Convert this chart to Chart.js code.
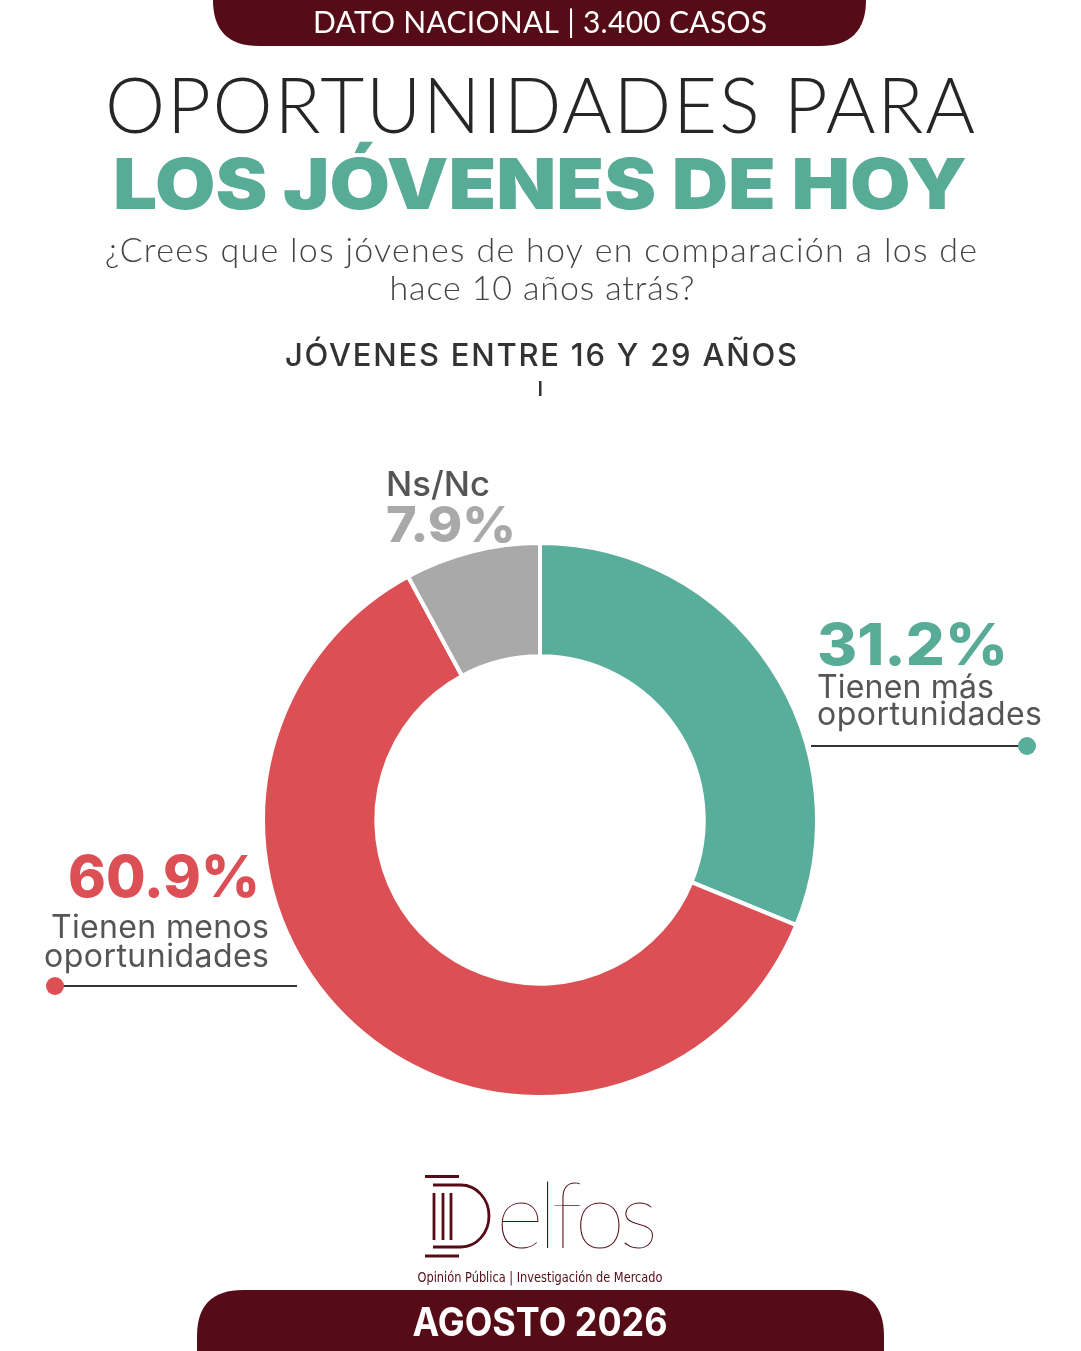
<!DOCTYPE html>
<html>
<head>
<meta charset="utf-8">
<title>Oportunidades para los jóvenes de hoy</title>
<script src="https://cdn.jsdelivr.net/npm/chart.js@4/dist/chart.umd.min.js"></script>
<style>
  html, body { margin: 0; padding: 0; background: #fff; }
  #chart { display: block; }
</style>
</head>
<body>
<canvas id="chart" width="1081" height="1351"></canvas>
<script>
// data
const categories = ['Tienen más oportunidades', 'Tienen menos oportunidades', 'Ns/Nc'];
const values = [31.2, 60.9, 7.9];
const sliceColors = ['#59ae9b', '#dc5055', '#a9a9a9'];

const MAROON = '#560c16';
const TEAL = '#57ab97';
const FONT = 'Lato, "Open Sans", sans-serif';
const HEAVY = 'Inter, "Open Sans", sans-serif';

const pct = v => v.toFixed(1) + '%';

// draw a text, optionally stretched/spaced to a target width
function txt(ctx, s, o) {
  ctx.save();
  ctx.font = (o.weight || 400) + ' ' + o.size + 'px ' + (o.family || FONT);
  ctx.fillStyle = o.color || '#333';
  ctx.textBaseline = 'alphabetic';
  ctx.textAlign = 'left';
  let w = ctx.measureText(s).width;
  let sx = 1;
  if (o.width) {
    const n = [...s].length;
    if (o.fit === 'space' && 'letterSpacing' in ctx && n > 1) {
      ctx.letterSpacing = ((o.width - w) / (n - 1)) + 'px';
    } else {
      sx = o.width / w;
    }
    w = o.width;
  }
  let left = o.x;
  if (o.align === 'center') left = o.x - w / 2;
  if (o.align === 'right') left = o.x - w;
  ctx.translate(left, o.y);
  ctx.scale(sx, 1);
  ctx.fillText(s, 0, 0);
  ctx.restore();
}

function roundBar(ctx, x, y, w, h, r, top) {
  ctx.beginPath();
  if (top) {
    ctx.moveTo(x, y + h);
    ctx.lineTo(x, y + r);
    ctx.quadraticCurveTo(x, y, x + r, y);
    ctx.lineTo(x + w - r, y);
    ctx.quadraticCurveTo(x + w, y, x + w, y + r);
    ctx.lineTo(x + w, y + h);
  } else {
    ctx.moveTo(x, y);
    ctx.lineTo(x, y + h - r);
    ctx.quadraticCurveTo(x, y + h, x + r, y + h);
    ctx.lineTo(x + w - r, y + h);
    ctx.quadraticCurveTo(x + w, y + h, x + w, y + h - r);
    ctx.lineTo(x + w, y);
  }
  ctx.closePath();
  ctx.fillStyle = MAROON;
  ctx.fill();
}

const poster = {
  id: 'poster',
  beforeDraw(chart) {
    const ctx = chart.ctx;
    ctx.save();
    ctx.fillStyle = '#fff';
    ctx.fillRect(0, 0, chart.width, chart.height);

    // top banner
    roundBar(ctx, 213, 0, 653, 46, 46, false);
    txt(ctx, 'DATO NACIONAL | 3.400 CASOS', { x: 540, y: 33, size: 30, weight: 400, color: '#fff', align: 'center', width: 454, fit: 'space' });

    // titles
    txt(ctx, 'OPORTUNIDADES PARA', { x: 540, y: 133, size: 76, weight: 300, color: '#262626', align: 'center', width: 870, fit: 'space' });
    txt(ctx, 'LOS JÓVENES DE HOY', { x: 540, y: 209, size: 70, weight: 900, color: TEAL, align: 'center', width: 854, family: HEAVY });
    txt(ctx, '¿Crees que los jóvenes de hoy en comparación a los de', { x: 541, y: 262, size: 34, weight: 300, color: '#444', align: 'center', width: 872, fit: 'space' });
    txt(ctx, 'hace 10 años atrás?', { x: 542, y: 300, size: 34, weight: 300, color: '#444', align: 'center', width: 305, fit: 'space' });
    txt(ctx, 'JÓVENES ENTRE 16 Y 29 AÑOS', { x: 541, y: 366, size: 31, weight: 500, color: '#333', align: 'center', width: 512, fit: 'space', family: HEAVY });
    ctx.fillStyle = '#333';
    ctx.fillRect(539, 381, 2.5, 15);

    // bottom banner
    roundBar(ctx, 197, 1290, 687, 61, 46, true);
    txt(ctx, 'AGOSTO 2026', { x: 540, y: 1336, size: 40, weight: 700, color: '#fff', align: 'center', width: 255, family: HEAVY });

    // logo
    ctx.strokeStyle = MAROON;
    ctx.lineWidth = 2.8;
    ctx.beginPath();
    ctx.moveTo(425, 1176.5); ctx.lineTo(459, 1176.5);
    ctx.moveTo(425, 1256); ctx.lineTo(459, 1256);
    [434, 443, 451].forEach(x => { ctx.moveTo(x, 1193); ctx.lineTo(x, 1240); });
    ctx.stroke();
    ctx.beginPath();
    ctx.moveTo(433, 1185);
    ctx.lineTo(461, 1185);
    ctx.ellipse(461, 1216, 28, 31, 0, -Math.PI / 2, Math.PI / 2, false);
    ctx.lineTo(433, 1247);
    ctx.stroke();
    txt(ctx, 'elfos', { x: 496, y: 1248, size: 92, weight: 200, color: MAROON, width: 162, fit: 'space' });
    txt(ctx, 'Opinión Pública | Investigación de Mercado', { x: 540, y: 1282, size: 14, weight: 400, color: MAROON, align: 'center', width: 245, family: '"Liberation Sans Narrow", "DejaVu Sans Condensed", sans-serif' });
    ctx.restore();
  },
  afterDraw(chart) {
    const ctx = chart.ctx;
    ctx.save();
    // Ns/Nc
    txt(ctx, categories[2], { x: 386, y: 496, size: 34, weight: 500, color: '#555', width: 104, family: HEAVY });
    txt(ctx, pct(values[2]), { x: 386, y: 542, size: 50, weight: 800, color: sliceColors[2], width: 130, family: HEAVY });

    // right label
    txt(ctx, pct(values[0]), { x: 817, y: 665, size: 58, weight: 800, color: TEAL, width: 191, family: HEAVY });
    txt(ctx, 'Tienen más', { x: 817, y: 698, size: 32, weight: 400, color: '#555', width: 177, fit: 'space', family: HEAVY });
    txt(ctx, 'oportunidades', { x: 817, y: 725, size: 32, weight: 400, color: '#555', width: 225, fit: 'space', family: HEAVY });
    ctx.strokeStyle = '#333'; ctx.lineWidth = 2;
    ctx.beginPath(); ctx.moveTo(811, 746); ctx.lineTo(1027, 746); ctx.stroke();
    ctx.fillStyle = sliceColors[0];
    ctx.beginPath(); ctx.arc(1027, 746, 9, 0, Math.PI * 2); ctx.fill();

    // left label
    txt(ctx, pct(values[1]), { x: 260, y: 897, size: 58, weight: 800, color: sliceColors[1], align: 'right', width: 192, family: HEAVY });
    txt(ctx, 'Tienen menos', { x: 269, y: 938, size: 32, weight: 400, color: '#555', align: 'right', width: 218, fit: 'space', family: HEAVY });
    txt(ctx, 'oportunidades', { x: 269, y: 967, size: 32, weight: 400, color: '#555', align: 'right', width: 225, fit: 'space', family: HEAVY });
    ctx.strokeStyle = '#333'; ctx.lineWidth = 2;
    ctx.beginPath(); ctx.moveTo(55, 986); ctx.lineTo(297, 986); ctx.stroke();
    ctx.fillStyle = sliceColors[1];
    ctx.beginPath(); ctx.arc(55, 986, 9, 0, Math.PI * 2); ctx.fill();
    ctx.restore();
  }
};

new Chart(document.getElementById('chart'), {
  type: 'doughnut',
  data: {
    labels: categories,
    datasets: [{
      data: values,
      backgroundColor: sliceColors,
      borderColor: '#ffffff',
      borderWidth: 4,
      hoverOffset: 0,
      offset: 0
    }]
  },
  options: {
    responsive: false,
    animation: false,
    events: [],
    cutout: '59.1%',
    rotation: 0,
    layout: { padding: { left: 261, right: 262, top: 541, bottom: 252 } },
    plugins: {
      legend: { display: false },
      tooltip: { enabled: false }
    }
  },
  plugins: [poster]
});
</script>
</body>
</html>
